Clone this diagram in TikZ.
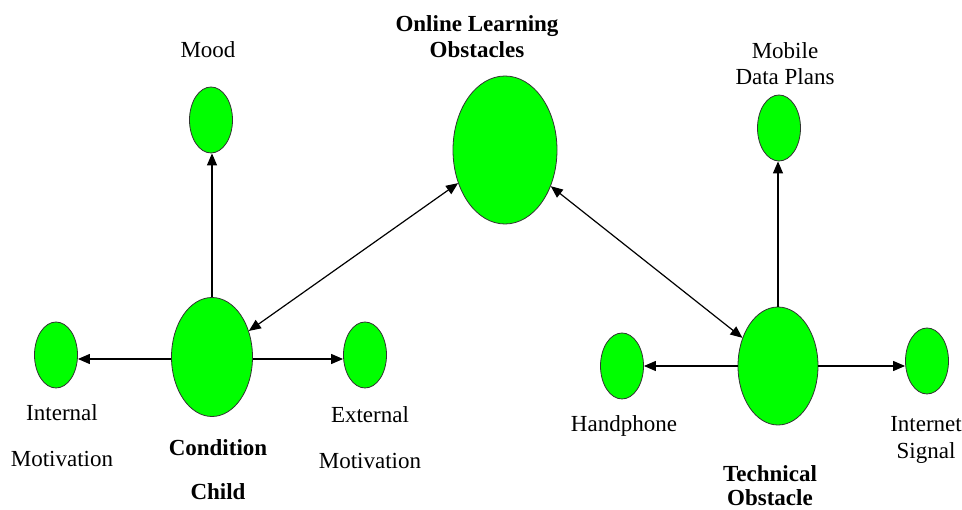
\documentclass[tikz,border=0pt]{standalone}
\usepackage{fontspec}
\setmainfont{Liberation Serif}
\usetikzlibrary{shapes.geometric,arrows.meta}
\begin{document}
\begin{tikzpicture}[x=1pt,y=-1pt,
  blob/.style={ellipse,draw=black!80,line width=0.8pt,fill={rgb,255:red,0;green,255;blue,0},inner sep=0pt},
  small/.style={blob,minimum width=43pt,minimum height=66pt},
  big/.style={blob,minimum width=81pt,minimum height=119pt},
  lbl/.style={font=\fontsize{23}{27}\selectfont,align=center,inner sep=0pt},
  blbl/.style={lbl,font=\fontsize{23}{27}\selectfont\bfseries},
  conn/.style={line width=1.2pt,-{Triangle[length=12pt,width=10pt]}},
  dconn/.style={line width=1.2pt,{Triangle[length=12pt,width=10pt]}-{Triangle[length=12pt,width=10pt]}}]
\useasboundingbox (0,0) rectangle (962,510);
% nodes
\node[blob,minimum width=104pt,minimum height=148pt] (online) at (505,150) {};
\node[small] (mood) at (211,120) {};
\node[big] (cond) at (212,357) {};
\node[small] (internal) at (56,355) {};
\node[small] (external) at (365,355) {};
\node[small] (mobile) at (779,128) {};
\node[big,minimum width=80pt,minimum height=118pt] (tech) at (778,366) {};
\node[small] (hand) at (622,366) {};
\node[small] (signal) at (927,361) {};
% labels
\node[lbl] (tmood) at (208,50) {Mood};
\node[blbl] (tonline) at (477,37) {Online Learning\\[-1pt]Obstacles};
\node[lbl] (tmobile) at (785,64) {Mobile\\[-1pt]Data Plans};
\node[lbl] (tinternal) at (62,436) {Internal\\[19pt]Motivation};
\node[blbl] (tcond) at (218,470) {Condition\\[17pt]Child};
\node[lbl] (texternal) at (370,438) {External\\[19pt]Motivation};
\node[lbl] (thand) at (624,426) {Handphone};
\node[blbl] (ttech) at (770,486) {Technical\\[-3pt]Obstacle};
\node[lbl] (tsignal) at (926,440) {Internet\\[0pt]Signal};
% connectors
\draw[conn] ([yshift=-2pt]cond.west) -- ([yshift=-2pt]cond.west -| internal.east);
\draw[conn] ([yshift=-2pt]cond.east) -- ([yshift=-2pt]cond.east -| external.west);
\draw[conn] (cond.north) -- (cond.north |- mood.south);
\draw[dconn] (cond) -- (online);
\draw[dconn] (online) -- (tech);
\draw[conn] (tech.north) -- (tech.north |- mobile.south);
\draw[conn] (tech.west) -- (tech.west -| hand.east);
\draw[conn] (tech.east) -- (tech.east -| signal.west);
\end{tikzpicture}
\end{document}
